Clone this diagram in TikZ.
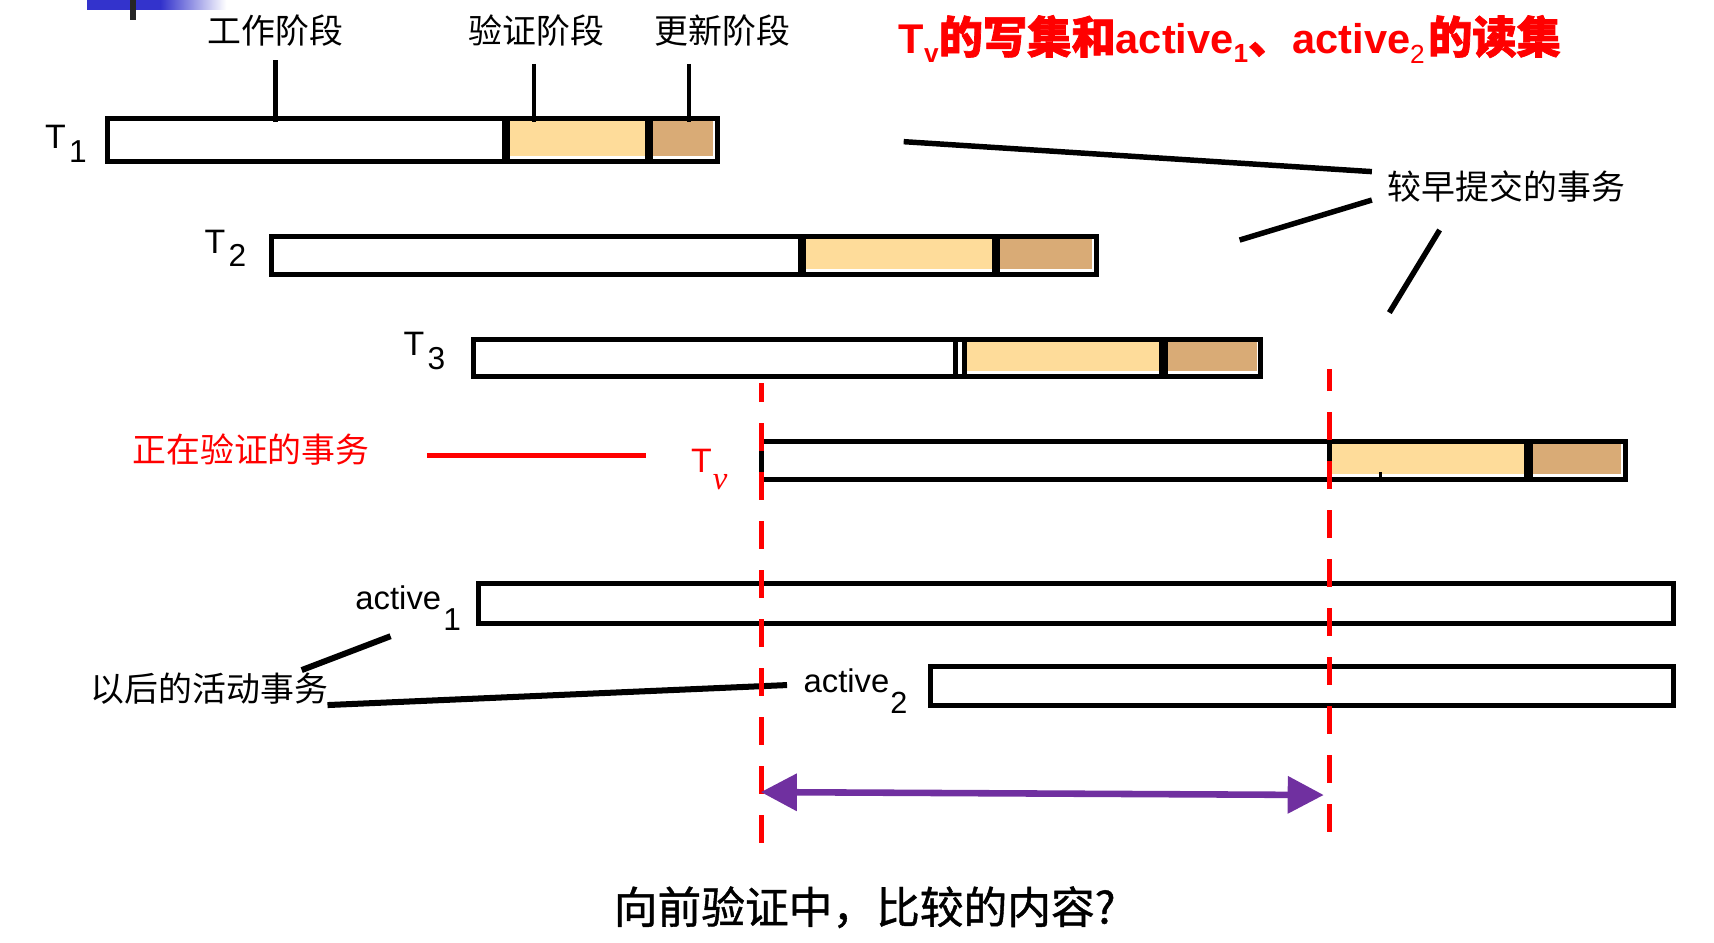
\documentclass[tikz,border=0pt]{standalone}
\usepackage{fontspec}
\setmainfont{Liberation Sans}
\newfontfamily\cjk{Noto Sans CJK SC}
\newfontfamily\cjkb[FakeBold=1.6]{Noto Sans CJK SC}
\newfontfamily\cjkm[FakeBold=1]{Noto Sans CJK SC}
\newfontfamily\serifit{Liberation Serif}
\usetikzlibrary{arrows.meta}
\definecolor{vorange}{HTML}{FEDC9A}
\definecolor{utan}{HTML}{D9AB76}
\definecolor{vred}{HTML}{FF0000}
\definecolor{vpurple}{HTML}{7030A0}
\definecolor{vblue}{HTML}{3333CC}
\newcommand\fs[1]{\fontsize{#1}{#1}\selectfont}
% #1 name, #2 left, #3 top, #4 right, #5 bottom, #6 div1, #7 div2
\newcommand\txbar[7]{%
  \fill[vorange] (#6,#3+2.3) rectangle (#7,#5-5);
  \fill[utan] (#7,#3+2.3) rectangle (#4-3.8,#5-5);
  \node[txbox, minimum width=#4-#2, minimum height=#5-#3] (#1) at ({(#2+#4)/2},{(#3+#5)/2}) {};
  \draw[divider] (#6,#3) -- (#6,#5);
  \draw[divider] (#7,#3) -- (#7,#5);
}
\tikzset{
  txbox/.style={draw=black, line width=4.6pt, rectangle, inner sep=0pt, outer sep=0pt},
  divider/.style={draw=black, line width=7.5pt},
  thindiv/.style={draw=black, line width=4pt},
  phaselabel/.style={inner sep=0pt, font=\cjk\fs{31}},
  tlabel/.style={inner sep=0pt, anchor=base west, font=\fs{31}},
  pointer/.style={draw=black, line width=5pt},
  tick/.style={draw=black, line width=4pt},
  reddash/.style={draw=vred, line width=5pt, dash pattern=on 25.3pt off 19.5pt},
  purplearrow/.style={draw=vpurple, line width=6pt,
    {Triangle[length=33pt,width=33pt]}-{Triangle[length=33pt,width=33pt]}},
}
\begin{document}
\begin{tikzpicture}[x=1pt,y=-1pt]
\useasboundingbox (0,0) rectangle (1568,862);

% top-left decoration
\fill[vblue] (80,0) rectangle (147,9);
\shade[left color=vblue, right color=white] (147,0) rectangle (207,9);
\draw[draw=black!85, line width=5pt] (121.7,0) -- (121.7,18);

% phase labels
\node[phaselabel] (work) at (251.7,28) {工作阶段};
\node[phaselabel] (valid) at (490.7,28) {验证阶段};
\node[phaselabel] (upd) at (661,28) {更新阶段};
\coordinate (k1a) at (252,55);  \coordinate (k1b) at (252,112);
\coordinate (k2a) at (488.5,58.5); \coordinate (k2b) at (488.5,112);
\coordinate (k3a) at (630.3,58.5); \coordinate (k3b) at (630.3,112);

% transaction bars
\txbar{t1}{98.3}{108}{656}{148}{463}{593.5}
\txbar{t2}{248.5}{216}{1003}{251.4}{734}{911}

% T3
\fill[vorange] (884,310.5+2.3) rectangle (1064.7,344.5-5);
\fill[utan] (1064.7,310.5+2.3) rectangle (1153.5-3.8,344.5-5);
\node[txbox, minimum width=720.2, minimum height=34] (t3) at (793.4,327.5) {};
\draw[thindiv] (874,310.5) -- (874,344.5);
\draw[thindiv] (882.2,310.5) -- (882.2,344.5);
\draw[divider, line width=8pt] (1064.7,310.5) -- (1064.7,344.5);

% Tv
\fill[vorange] (1218,403.5+2.3) rectangle (1398.6,439-5);
\fill[utan] (1398.6,403.5+2.3) rectangle (1487-3.8,439-5);
\node[txbox, minimum width=790.3, minimum height=35.5] (tv) at (1091.85,421.25) {};
\draw[thindiv] (1216.4,403.5) -- (1216.4,439);
\draw[divider, line width=8pt] (1398.6,403.5) -- (1398.6,439);
\draw[draw=black, line width=2.5pt] (1263,432) -- (1263,437);

% active bars
\node[txbox, minimum width=1092.5, minimum height=36.5] (a1) at (984.25,551.75) {};
\node[txbox, minimum width=679.5, minimum height=35.9] (a2) at (1190.75,627.45) {};

% phase ticks
\draw[tick] (k1a) -- (k1b);
\draw[tick] (k2a) -- (k2b);
\draw[tick] (k3a) -- (k3b);

% T labels
\node[tlabel] (lt1) at (41,136) {T\hspace{3pt}\raisebox{-13pt}{\fs{29}1}};
\node[tlabel] (lt2) at (187,232) {T\hspace{3pt}\raisebox{-12pt}{\fs{29}2}};
\node[tlabel] (lt3) at (369,325) {T\hspace{3pt}\raisebox{-13pt}{\fs{29}3}};
\node[tlabel, text=vred, font=\fs{31}] (ltv) at (632,432.4) {T\hspace{1pt}\raisebox{-15.6pt}{\serifit\itshape\fs{30}v}};
\node[tlabel, font=\fs{30}] (la1) at (325,558) {active\hspace{2pt}\raisebox{-18.4pt}{\fs{29}1}};
\node[tlabel, font=\fs{30}] (la2) at (735,633.7) {active\hspace{1pt}\raisebox{-19pt}{\fs{28}2}};

% title
\node[inner sep=0pt, anchor=base west, text=vred] (title) at (822,48.8)
  {\fs{38}\bfseries T\raisebox{-8pt}{\fs{24}v}{\cjkb\fs{40.5}的写集和}active\raisebox{-8pt}{\fs{24}1}{\cjkb\fs{40.5}、}active\raisebox{-9pt}{\fs{24}\mdseries 2}\hspace{3pt}{\cjkb\fs{40.5}的读集}};

% earlier committed transactions
\node[phaselabel] (early) at (1378,171) {较早提交的事务};
\coordinate (e1a) at (826.7,129.6); \coordinate (e1b) at (1255,157);
\coordinate (e2a) at (1134,219.6);  \coordinate (e2b) at (1255,183);
\coordinate (e3a) at (1317,210.4);  \coordinate (e3b) at (1271,286);
\draw[pointer] (e1a) -- (e1b);
\draw[pointer] (e2a) -- (e2b);
\draw[pointer] (e3a) -- (e3b);

% validating transaction
\node[phaselabel, text=vred] (valtx) at (229.6,411) {正在验证的事务};
\coordinate (r1a) at (390.4,416.9); \coordinate (r1b) at (591.2,416.9);
\draw[draw=vred, line width=4.6pt] (r1a) -- (r1b);

% later active transactions
\node[phaselabel] (later) at (191.5,630) {以后的活动事务};
\coordinate (l1a) at (276,613);   \coordinate (l1b) at (357.3,582);
\coordinate (l2a) at (299.6,645); \coordinate (l2b) at (720,626.7);
\draw[pointer, line width=5.5pt] (l1a) -- (l1b);
\draw[pointer, line width=5.5pt] (l2a) -- (l2b);

% red dashed lines
\coordinate (d1b) at (696.7,771); \coordinate (d1t) at (696.7,350.4);
\coordinate (d2b) at (1216.4,761); \coordinate (d2t) at (1216.4,337.9);
\draw[reddash] (d1b) -- (d1t);
\draw[reddash] (d2b) -- (d2t);

% purple double arrow
\coordinate (pa) at (696,724.6); \coordinate (pb) at (1211,727.3);
\draw[purplearrow] (pa) -- (pb);

% question
\node[inner sep=0pt, font=\cjkm\fs{40}] (question) at (791,830) {向前验证中，比较的内容?};
\end{tikzpicture}
\end{document}
